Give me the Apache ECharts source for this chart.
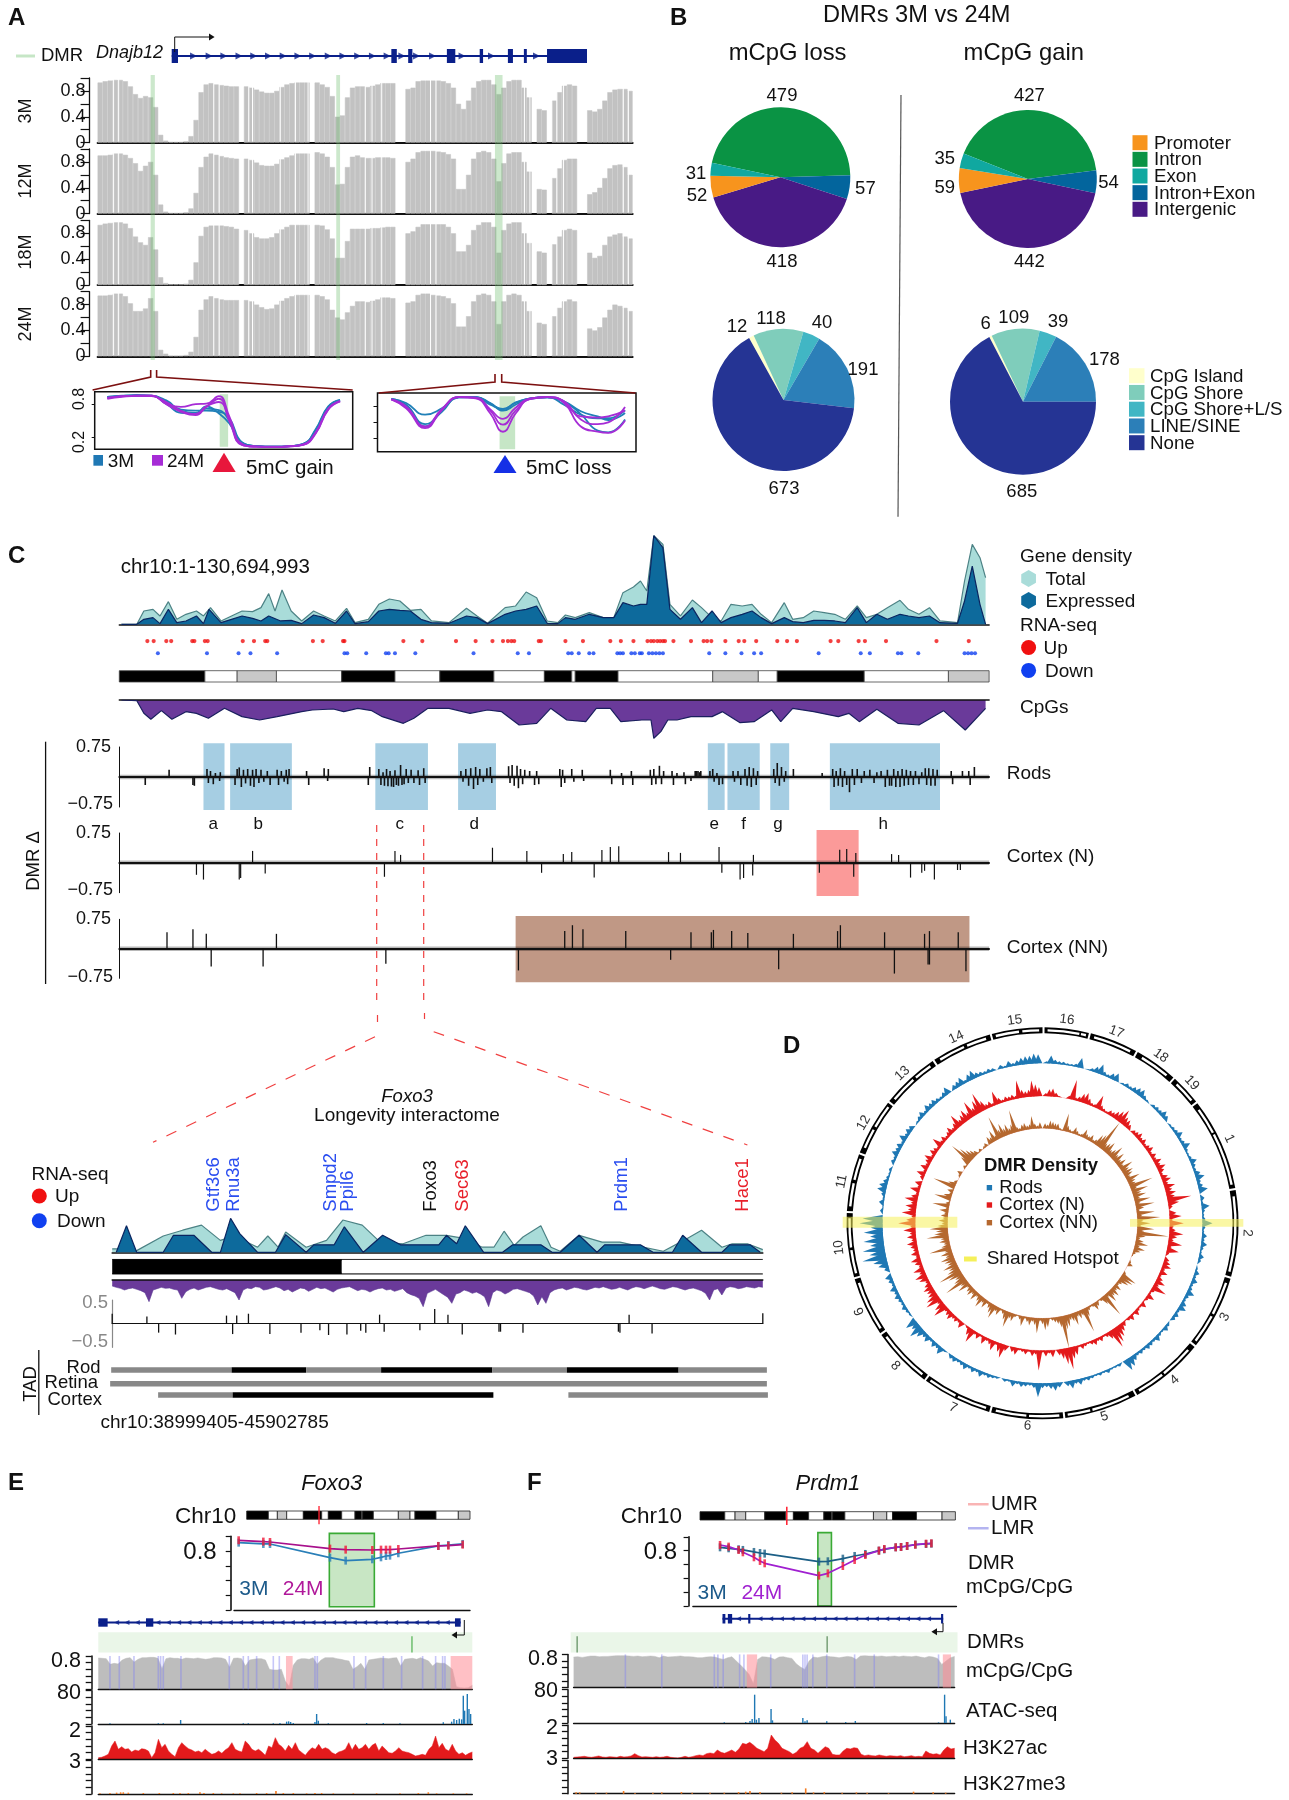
<!DOCTYPE html>
<html><head><meta charset="utf-8"><style>html,body{margin:0;padding:0;background:#fff}#c{width:1289px;height:1800px}</style>
<script src="https://cdn.jsdelivr.net/npm/echarts@6/dist/echarts.min.js"></script></head><body><div id="c"></div>
<script>
// ---------- Panel A data ----------
const methyl3M=[.93,.95,.96,.97,.97,.95,.87,.75,.69,.72,.70,.55,.12,.03,.01,.01,.01,.02,.10,.35,.78,.90,.92,.90,.89,.88,.87,.87,null,.87,.85,.82,.79,.77,.77,.80,.86,.90,.92,.93,.93,.93,null,.93,.90,.86,.72,.40,.42,.70,.85,.87,.87,.86,.88,.90,.92,.92,.92,null,null,.83,.85,.95,.96,.96,.96,.96,.95,.92,.85,.60,.52,.65,.85,.95,.97,.97,.90,.75,.85,.95,.97,.97,.85,.70,null,.52,.50,null,.65,.78,.88,.90,.88,null,null,.50,.48,.52,.65,.78,.82,.83,.83,.80];
const methyl12M=[.90,.90,.91,.93,.93,.91,.86,.78,.66,.74,.80,.60,.14,.03,.01,.01,.01,.02,.08,.32,.72,.88,.93,.91,.89,.87,.86,.85,null,.85,.83,.79,.75,.74,.74,.77,.84,.87,.90,.93,.93,.93,null,.95,.93,.88,.72,.45,.46,.72,.88,.90,.87,.86,.86,.87,.87,.87,.86,null,null,.80,.85,.95,.97,.97,.97,.96,.95,.92,.85,.38,.38,.60,.85,.95,.97,.95,.85,.50,.78,.93,.95,.95,.80,.65,null,.38,.37,null,.55,.70,.83,.85,.85,null,null,.30,.33,.40,.55,.70,.75,.76,.72,.60];
const methyl18M=[.93,.95,.96,.97,.97,.95,.88,.75,.66,.62,.74,.55,.12,.03,.01,.01,.01,.02,.08,.35,.76,.90,.92,.92,.92,.91,.90,.87,null,.85,.80,.74,.72,.72,.74,.80,.86,.90,.93,.93,.93,.93,null,.93,.92,.86,.72,.42,.42,.68,.87,.87,.87,.87,.88,.88,.89,.90,.90,null,null,.80,.83,.90,.94,.94,.94,.94,.94,.90,.80,.52,.52,.62,.85,.93,.97,.97,.90,.50,.85,.95,.97,.97,.80,.65,null,.52,.50,null,.63,.75,.85,.87,.85,null,null,.50,.42,.45,.62,.75,.78,.80,.75,.72];
const methyl24M=[.94,.94,.95,.97,.97,.93,.82,.70,.70,.74,.90,.70,.10,.04,.01,.01,.01,.02,.07,.30,.72,.88,.93,.90,.88,.87,.87,.87,null,.87,.85,.80,.76,.73,.74,.80,.86,.90,.93,.95,.95,.95,null,.95,.93,.88,.72,.60,.57,.68,.78,.85,.85,.84,.86,.88,.91,.91,.90,null,null,.83,.85,.95,.97,.97,.95,.94,.93,.90,.82,.46,.46,.62,.85,.95,.97,.95,.85,.50,.85,.95,.97,.95,.85,.70,null,.52,.50,null,.62,.75,.85,.88,.85,null,null,.43,.40,.45,.60,.72,.80,.78,.75,.70];
const dmrBandsA=[[358,368],[799,808],[1176,1194]];
const whiteGapsA=[270,282,508,521,591,600,666,702,732,868,884,907,1023,1036,1246,1259,1302,1311,1323,1339,1481,1493];
const geneAExons=[[408,423],[930,943],[970,980],[1062,1082],[1140,1148],[1207,1219],[1245,1252],[1300,1395]];
const geneAArrows=[460,497,532,568,603,638,673,708,743,780,815,850,885,920,955,990,1028,1098,1168,1275];
const insetLX=[255,290,325,360,395,430,465,490,520,545,575,610,650,690,720,750,780,808];
const insetL3M=[[.935,.947,.959,.959,.843,.678,.641,.72,.69,.494,.09,.03,.018,.03,.065,.32,.75,.873],[.92,.947,.953,.953,.81,.641,.63,.76,.63,.445,.078,.03,.02,.03,.07,.30,.73,.86],[.935,.959,.97,.959,.87,.70,.68,.68,.66,.54,.10,.03,.02,.03,.06,.34,.76,.88]];
const insetL24M=[[.916,.947,.959,.959,.81,.75,.80,.81,.947,.57,.07,.02,.02,.03,.06,.28,.72,.85],[.916,.947,.959,.959,.80,.66,.60,.75,.90,.49,.05,.02,.015,.025,.05,.26,.70,.85],[.90,.935,.953,.947,.84,.68,.62,.76,.84,.52,.05,.02,.015,.025,.05,.27,.71,.86]];
const insetRX=[930,965,1010,1050,1090,1130,1165,1195,1225,1260,1300,1340,1380,1420,1445,1485];
const insetR3M=[[.90,.83,.63,.74,.93,.93,.83,.70,.80,.91,.93,.80,.63,.57,.57,.71],[.90,.80,.47,.68,.93,.93,.80,.73,.83,.91,.93,.86,.69,.60,.54,.66],[.89,.78,.43,.70,.92,.93,.82,.72,.84,.90,.92,.85,.64,.36,.33,.55]];
const insetR24M=[[.89,.74,.40,.71,.93,.91,.65,.34,.65,.90,.93,.83,.43,.34,.32,.53],[.89,.77,.43,.73,.93,.92,.70,.46,.70,.90,.93,.85,.55,.47,.50,.76],[.89,.76,.42,.72,.93,.92,.72,.56,.75,.91,.93,.86,.60,.58,.60,.70]];
// ---------- Panel B data ----------
const regionNames=['Intron','Intron+Exon','Intergenic','Promoter','Exon'];
const regionColors=['#0a9344','#03659d','#481a85','#f7941d','#10a8a0'];
const lossRegion=[479,57,418,52,31];
const gainRegion=[427,54,442,59,35];
const cpgNames=['CpG Island','CpG Shore','CpG Shore+L/S','LINE/SINE','None'];
const cpgColors=['#ffffcc','#7fcdbb','#41b6c4','#2c7fb8','#253494'];
const lossCpg=[12,118,40,191,673];
const gainCpg=[6,109,39,178,685];
// ---------- Panel C data ----------
const densTotal=[[173,0],[195,0],[205,40],[218,45],[228,25],[240,68],[252,15],[265,30],[280,40],[290,25],[300,50],[315,10],[330,25],[345,40],[360,38],[372,50],[383,92],[392,40],[402,103],[415,40],[430,10],[447,40],[462,25],[478,10],[494,48],[506,5],[525,15],[540,60],[555,76],[570,70],[585,42],[600,45],[615,10],[640,5],[665,48],[680,25],[695,3],[720,50],[735,55],[750,97],[765,80],[780,10],[795,5],[806,28],[820,20],[840,35],[860,20],[875,20],[888,95],[903,112],[913,130],[922,100],[932,266],[945,240],[955,60],[970,25],[987,73],[1000,50],[1015,20],[1028,10],[1042,60],[1058,55],[1072,60],[1085,30],[1100,5],[1118,65],[1130,15],[1145,20],[1160,40],[1175,35],[1190,30],[1205,15],[1222,55],[1235,20],[1250,30],[1265,50],[1283,72],[1295,45],[1310,30],[1325,50],[1340,10],[1365,5],[1375,130],[1386,240],[1397,200],[1405,140]];
const densExpr=[[173,0],[195,0],[205,15],[218,20],[228,2],[240,45],[252,5],[265,10],[280,25],[290,2],[298,45],[315,5],[330,15],[345,25],[360,18],[372,10],[383,25],[400,10],[415,12],[430,2],[447,28],[462,20],[478,3],[494,40],[506,2],[525,8],[540,40],[555,45],[570,42],[585,40],[600,15],[615,5],[640,3],[665,25],[680,20],[695,2],[720,30],[735,40],[750,45],[765,55],[780,3],[795,2],[806,20],[820,15],[840,30],[860,20],[875,20],[888,65],[903,55],[913,60],[922,60],[932,266],[945,230],[955,45],[970,15],[987,50],[1000,5],[1015,40],[1028,5],[1042,20],[1058,30],[1072,40],[1085,20],[1100,2],[1118,20],[1130,8],[1145,5],[1160,12],[1175,12],[1190,10],[1205,5],[1222,50],[1235,5],[1250,30],[1265,15],[1283,30],[1295,25],[1310,20],[1325,25],[1340,5],[1365,3],[1375,70],[1386,175],[1397,60],[1405,0]];
const rnaUpC=[210,219,237,244,274,277,292,296,346,362,378,381,446,460,489,491,575,602,650,678,702,717,724,729,733,768,771,806,831,870,885,903,923,928,932,937,941,945,948,960,985,1003,1008,1014,1034,1053,1061,1078,1108,1122,1136,1184,1195,1224,1233,1263,1335,1381];
const rnaDownC=[225,295,340,357,395,491,495,522,550,554,563,592,675,738,754,810,815,825,840,846,880,884,888,900,905,912,915,925,930,935,940,945,1011,1034,1057,1075,1085,1167,1227,1240,1280,1285,1309,1375,1380,1385,1390];
const ideoC=[[170,292,1],[292,338,0],[338,394,2],[394,487,0],[487,563,1],[563,627,0],[627,704,1],[704,776,0],[776,815,1],[815,820,0],[820,881,1],[881,1016,0],[1016,1081,2],[1081,1108,0],[1108,1232,1],[1232,1352,0],[1352,1410,2]];
const cpgDepthC=[[173,0],[195,2],[205,40],[215,58],[230,32],[245,58],[265,35],[280,40],[297,55],[320,25],[345,50],[370,60],[395,50],[430,35],[445,30],[475,27],[490,35],[510,25],[530,32],[545,50],[575,70],[590,55],[610,25],[640,25],[670,40],[695,30],[715,35],[740,75],[765,70],[785,25],[808,60],[835,65],[850,25],[870,25],[885,65],[915,60],[928,60],[932,115],[942,95],[952,60],[965,60],[985,50],[1015,50],[1030,35],[1055,68],[1075,65],[1100,30],[1113,65],[1130,25],[1160,35],[1195,50],[1210,40],[1225,65],[1250,28],[1280,70],[1310,75],[1345,32],[1376,90],[1405,25]];
const rodsBoxes=[[290,320],[328,416],[535,610],[653,707],[1009,1033],[1037,1083],[1098,1125],[1183,1340]];
const rodsLetters=[['a',304],['b',368],['c',570],['d',676],['e',1018],['f',1060],['g',1109],['h',1259]];
const rodsDMR=[[207,-.2],[241,.18],[275,-.2],[277,-.22],[295,.2],[297,-.15],[300,.15],[304,-.18],[307,.1],[314,.12],[313,-.1],[335,-.2],[338,.2],[341,.24],[344,-.25],[347,.18],[350,-.16],[353,.2],[357,-.22],[360,.18],[362,-.25],[365,.2],[369,-.15],[372,.18],[376,-.12],[381,.15],[385,-.2],[395,.18],[397,-.2],[401,.15],[405,-.12],[408,.18],[410,-.18],[412,.2],[437,.15],[440,-.2],[462,.22],[468,.2],[467,-.1],[527,.25],[525,-.2],[540,.2],[543,-.2],[546,.12],[548,-.22],[551,.2],[553,-.23],[556,.15],[558,-.24],[561,-.25],[563,.17],[565,-.2],[568,-.22],[571,.3],[573,-.2],[576,-.18],[579,.2],[582,-.15],[586,.18],[590,-.15],[596,.17],[598,-.2],[604,.22],[606,-.15],[657,.15],[660,-.12],[664,.2],[668,-.22],[671,.22],[675,-.3],[678,.25],[681,-.2],[684,.2],[689,-.12],[694,.22],[699,.25],[701,-.15],[725,.27],[727,-.15],[730,.3],[733,-.22],[737,.28],[739,-.28],[742,.2],[745,-.18],[748,.18],[755,.15],[762,-.2],[765,.15],[768,-.18],[798,.2],[800,-.25],[802,.18],[805,-.15],[815,.2],[818,-.12],[830,.18],[832,-.1],[870,.18],[872,-.18],[886,.1],[888,-.2],[900,.15],[902,-.2],[927,.18],[929,-.2],[932,.2],[935,-.18],[940,.28],[943,-.18],[946,.15],[958,.15],[960,-.2],[965,.1],[975,.12],[977,-.18],[985,-.1],[991,.15],[993,.15],[995,.15],[997,.12],[999,.15],[1012,.15],[1016,.2],[1018,-.12],[1022,.1],[1025,-.2],[1030,-.18],[1045,.15],[1047,-.12],[1052,.15],[1056,-.2],[1062,.2],[1065,-.22],[1068,.25],[1071,-.25],[1074,.22],[1078,-.2],[1080,.15],[1103,.2],[1105,-.15],[1108,.35],[1111,-.22],[1114,.25],[1118,-.12],[1120,.15],[1131,.2],[1172,.1],[1187,.2],[1189,-.25],[1192,.15],[1195,-.22],[1198,.22],[1201,-.25],[1204,.15],[1207,-.2],[1211,-.38],[1215,.2],[1218,-.2],[1222,.2],[1228,-.15],[1232,.15],[1240,.18],[1246,-.15],[1250,.12],[1256,.15],[1262,-.25],[1265,.18],[1268,-.22],[1271,-.22],[1274,.2],[1277,-.25],[1280,.15],[1283,-.25],[1286,.2],[1289,-.22],[1292,.18],[1295,-.2],[1298,.15],[1302,-.2],[1305,.15],[1310,-.18],[1314,.12],[1319,.22],[1321,-.2],[1324,.22],[1327,-.22],[1330,.2],[1333,-.22],[1336,.18],[1356,.15],[1358,-.18],[1372,.15],[1381,.15],[1383,-.2],[1389,.25]];
const cortexN=[[360,.3],[563,.3],[571,.2],[702,.38],[751,.3],[803,.22],[815,.27],[858,.32],[870,.4],[882,.42],[953,.27],[970,.25],[1025,.4],[1074,.2],[1197,.33],[1207,.35],[1220,.25],[1271,.22],[1281,.2],[280,-.3],[290,-.42],[341,-.42],[343,-.38],[378,-.27],[548,-.35],[772,-.25],[847,-.37],[1029,-.25],[1055,-.42],[1060,-.38],[1073,-.32],[1168,-.25],[1217,-.35],[1298,-.37],[1314,-.25],[1318,-.2],[1332,-.42],[1365,-.18],[1369,-.18]];
const cortexNN=[[238,.42],[275,.5],[294,.38],[394,.38],[805,.45],[816,.6],[831,.5],[892,.45],[985,.42],[1014,.42],[1017,.48],[1043,.45],[1066,.4],[1131,.38],[1194,.45],[1198,.6],[1261,.42],[1318,.38],[1325,.45],[1366,.42],[301,-.45],[375,-.45],[550,-.38],[739,-.55],[956,-.28],[1110,-.52],[1275,-.63],[1323,-.4],[1325,-.4],[1377,-.57]];
// ---------- Foxo3 zoom data ----------
const zoomTotal=[[220,10],[230,10],[268,5],[320,48],[358,65],[395,80],[432,35],[452,45],[470,40],[505,15],[525,48],[545,15],[560,60],[600,15],[640,35],[672,95],[710,80],[745,30],[790,25],[835,50],[875,50],[912,40],[945,15],[968,15],[988,62],[1008,20],[1025,45],[1060,78],[1080,15],[1098,3],[1135,50],[1180,30],[1215,30],[1260,15],[1300,3],[1340,35],[1375,65],[1415,15],[1435,25],[1465,25],[1495,8]];
const zoomExpr=[[228,0],[248,78],[268,0],[320,0],[340,50],[380,50],[415,0],[432,0],[452,100],[470,55],[505,0],[540,0],[560,52],[600,0],[615,22],[655,22],[675,75],[712,0],[750,50],[785,22],[860,22],[875,50],[895,25],[912,78],[948,0],[985,0],[1005,22],[1060,22],[1082,0],[1098,0],[1135,50],[1170,0],[1185,22],[1255,22],[1280,0],[1318,0],[1338,50],[1375,0],[1415,0],[1430,22],[1470,22],[1490,0]];
const zoomCpG=[18,22,25,30,26,24,28,32,38,65,30,26,22,25,24,28,30,55,35,28,24,30,26,22,20,24,28,30,26,32,38,60,30,24,26,20,22,30,28,24,20,24,32,28,36,30,24,26,34,28,22,26,24,30,36,28,24,22,20,26,32,28,30,36,30,26,24,30,28,34,30,26,38,44,48,55,80,40,34,28,36,44,52,70,42,38,30,34,40,36,42,50,80,38,30,34,42,36,28,26,30,34,38,48,75,50,70,38,30,26,24,30,26,22,24,28,30,26,22,24,20,24,28,26,22,26,30,24,20,22,26,22,18,22,26,28,24,20,22,26,30,26,24,28,32,40,60,30,26,45,24,20,22,26,24,20,22,24,20,22];
const zoomDMR=[[220,.21],[288,.15],[444,.17],[464,.17],[487,.21],[744,.19],[852,.31],[878,.19],[1233,.19],[1495,.22],[311,-.19],[344,-.23],[456,-.22],[529,-.22],[590,-.19],[627,-.14],[644,-.24],[680,-.23],[707,-.15],[717,-.19],[753,-.17],[823,-.14],[906,-.23],[978,-.17],[981,-.17],[1025,-.19],[1212,-.17],[1215,-.19],[1278,-.21]];
const zoomGenes=[['Gtf3c6',214.3,'#2a4df0'],['Rnu3a',233.7,'#2a4df0'],['Smpd2',330.6,'#2a4df0'],['Ppil6',348,'#2a4df0'],['Foxo3',431,'#111'],['Sec63',463,'#e8202a'],['Prdm1',622.4,'#2a4df0'],['Hace1',743.4,'#e8202a']];
const tadRod=[[218,454,0],[454,600,1],[600,747,0],[747,965,1],[965,1111,0],[1111,1330,1],[1330,1503,0]];
const tadRetina=[[216,1503,0]];
const tadCortex=[[310,456,0],[456,967,1],[1114,1505,0]];
// ---------- Panel D data (height in 1.5 degree bins, clockwise from top) ----------
const ringBlue=[null,2,8,4,3,3,2,2,3,10,null,1,3,6,10,4,3,6,8,null,2,4,3,5,7,8,4,2,null,3,4,4,7,5,null,2,3,4,7,3,4,8,3,2,3,7,4,3,6,9,4,5,9,null,4,2,8,3,2,3,10,3,2,5,3,6,3,2,5,3,null,2,5,3,6,3,4,8,4,3,6,8,3,5,4,null,3,5,2,3,6,3,4,5,3,4,3,6,10,12,null,3,2,2,4,2,3,2,3,4,3,6,4,8,5,null,5,8,6,4,5,14,5,3,4,5,3,6,2,3,null,2,3,4,3,6,3,5,3,6,4,3,5,4,null,2,8,4,6,3,7,5,9,14,8,12,null,2,3,5,3,4,6,4,7,3,5,7,null,5,10,14,24,16,22,14,20,13,19,12,23,20,null,3,1,5,2,4,9,8,5,3,2,3,null,4,3,7,5,6,3,8,4,6,5,null,2,4,6,3,7,5,6,4,3,5,8,null,5,6,8,3,7,9,5,4,3,4,3,null,4,2,6,3,5,7,8,8,10,9];
const ringRed=[null,3,7,8,4,1,0,0,3,20,3,5,9,11,6,3,3,14,5,3,2,5,5,8,11,15,9,8,5,null,4,5,7,4,6,3,5,7,3,6,4,8,5,9,6,3,7,9,5,11,7,10,8,24,11,4,null,7,12,3,14,4,6,14,8,5,14,4,12,3,null,5,7,9,4,8,3,6,10,5,15,4,2,8,3,1,6,2,3,6,2,6,3,1,5,8,12,16,20,8,4,2,5,3,6,4,2,3,5,2,9,12,22,16,10,6,null,7,3,6,2,20,4,6,2,5,3,2,7,5,null,6,14,9,3,10,5,3,8,2,6,3,14,8,2,null,7,3,5,4,8,6,4,15,11,5,16,13,9,8,10,7,4,9,12,6,11,4,7,10,4,8,5,7,10,5,9,6,12,5,17,9,4,14,8,11,6,13,7,3,10,3,7,null,4,9,3,8,4,6,9,3,7,5,3,11,4,6,3,5,8,4,7,14,6,9,12,7,17,8,14,20,10,5,6,3,14,6,3,5,4,5,3,18,8,6,7,16,12,9];
const ringBrown=[null,5,4,8,7,6,6,2,1,18,6,3,2,7,4,2,3,9,5,4,7,3,5,12,14,32,8,10,13,6,9,15,7,12,6,10,5,14,8,11,9,5,14,8,7,24,6,17,9,13,6,16,5,19,8,3,18,5,23,6,13,4,17,7,32,9,4,8,13,5,11,7,3,1,0,0,2,5,0,0,0,3,16,14,11,5,3,8,5,10,7,12,4,25,9,3,1,5,8,3,2,4,9,25,6,8,5,13,8,6,12,14,33,11,7,5,3,1,9,12,6,3,15,7,4,8,5,2,10,4,1,3,8,6,16,9,4,2,8,5,14,10,6,3,9,5,12,7,4,10,5,9,7,4,13,8,24,12,9,15,24,13,10,15,9,11,14,8,12,7,22,9,6,10,8,22,14,12,18,10,6,9,5,7,4,9,3,17,4,1,17,8,3,6,1,23,8,3,0,0,2,5,0,0,3,1,10,24,16,11,8,5,1,3,0,2,4,0,8,6,12,5,24,9,14,8,11,6,9,23,5,3,6,7,4,5,13,5,3,6];
const chromNames=[16,17,18,19,1,2,3,4,5,6,7,8,9,10,11,12,13,14,15];
const chromStart=[0,13.7,28.5,41.9,51.6,79.6,105.8,128.5,151.1,173.3,195.2,216.5,235.3,253.4,273,290.6,308,325.9,344.4];
const ringWhite=[[1.5,11],[11.5,13],[15.5,27],[31,40],[44,50.5],[54,62],[62.6,78.5],[82,104.5],[108,118],[118.8,127.5],[131,141],[141.7,150],[153.5,165],[165.7,172.5],[175,184],[184.8,194],[197,206],[206.8,215.5],[218.5,234],[237,252],[255,262],[262.8,271.5],[275,282],[283,289.5],[293,299],[300,307],[310,318],[319,324.5],[328,336],[337,343],[346,353],[354,359]];
// ---------- Panels E / F data ----------
const ideoMini=[[740,805,1],[805,832,0],[832,860,2],[860,910,0],[910,965,1],[965,985,0],[985,1025,1],[1025,1065,0],[1065,1085,1],[1085,1088,0],[1088,1120,1],[1120,1195,0],[1195,1230,2],[1230,1245,0],[1245,1308,1],[1308,1375,0],[1375,1410,2]];
const eX=[716,790,810,990,1037,1117,1143,1158,1170,1195,1315,1345,1388];
const e3M=[.914,.896,.896,.71,.67,.688,.715,.733,.738,.77,.869,.882,.896];
const e24M=[.946,.928,.923,.833,.819,.814,.819,.819,.819,.828,.869,.873,.887];
const fX=[588,612,640,652,683,700,713,865,890,932,965,995,1033,1048,1080,1095,1112,1135,1165,1180];
const f3M=[.848,.834,.819,.81,.781,.766,.757,.641,.646,.684,.723,.752,.8,.819,.848,.853,.867,.887,.896,.901];
const f24M=[.882,.858,.81,.776,.704,.651,.617,.439,.472,.578,.665,.737,.8,.824,.848,.853,.867,.887,.901,.906];
const eMeth=[.94,.93,.92,.75,.78,.76,.88,.93,.95,.82,.90,.95,.95,.96,.96,.93,.62,.92,.95,.93,.93,.90,.94,.93,.92,.94,.92,.90,.92,.95,.95,.94,.90,.66,.93,.94,.92,.70,.88,.90,.92,.92,.88,.60,.58,.58,.60,.25,.08,.72,.88,.92,.92,.90,.95,.75,.88,.95,.95,.95,.92,.90,.87,.85,.60,.68,.78,.60,.88,.90,.92,.94,.93,.92,.94,.95,.70,.90,.92,.93,.90,.95,.90,.85,.70,.80,.78,.78,.70,.60,.08,.05,.04,.05,.12];
const fMeth=[.92,.93,.91,.93,.95,.95,.93,.94,.94,.95,.96,.96,.96,.95,.94,.95,.93,.94,.95,.94,.90,.95,.92,.93,.94,.95,.93,.93,.92,.90,.90,.92,.93,.92,.88,.85,.90,.93,.80,.68,.55,.40,.12,.85,.93,.92,.90,.85,.92,.93,.90,.88,.72,.62,.55,.80,.92,.90,.93,.95,.93,.92,.90,.92,.94,.92,.85,.95,.96,.95,.95,.94,.95,.93,.94,.95,.93,.95,.94,.93,.95,.92,.90,.94,.92,.88,.70,.80,.90,.94];
const eUMR=[[858,878],[1352,1417]];
const eLMR=[330,358,402,475,482,490,543,688,730,745,770,820,838,945,952,1062,1097,1150,1205,1268,1307,1328,1335];
const fUMR=[[663,692],[1212,1235]];
const fLMR=[323,425,572,582,597,643,655,730,820,826,832,848,887,965,1020,1200];
const eATAC=[[330,2],[475,2],[490,2],[542,12],[730,2],[745,2],[820,2],[840,3],[860,7],[866,8],[872,6],[880,3],[945,6],[950,30],[955,10],[985,2],[1100,3],[1150,3],[1200,2],[1330,5],[1355,7],[1362,15],[1370,12],[1378,16],[1385,14],[1390,85],[1394,40],[1402,90],[1407,45],[1412,30]];
const fATAC=[[600,2],[660,3],[672,6],[678,12],[685,85],[690,10],[697,15],[731,42],[735,8],[820,15],[826,5],[832,8],[887,5],[940,3],[967,6],[1200,2],[1217,85],[1221,20],[1233,10]];
const eAc=[5,6,10,15,40,55,30,38,30,32,22,28,25,32,30,25,5,20,60,35,45,25,15,8,35,50,40,32,28,22,25,20,30,22,15,18,25,18,28,35,50,30,25,22,55,45,30,25,30,22,12,40,35,65,45,38,25,42,30,50,28,20,12,25,35,30,45,30,35,30,20,15,22,25,30,50,28,45,30,35,45,30,42,48,25,40,30,20,18,25,35,25,22,20,15,10,12,15,12,30,40,70,35,48,30,25,45,25,15,20,12,18,22];
const fAc=[3,4,5,6,4,3,5,7,4,3,5,4,3,6,4,5,7,14,8,4,5,4,3,5,3,4,6,3,2,1,3,6,3,5,8,10,8,14,16,14,25,18,15,20,25,18,28,45,42,48,40,30,25,20,30,70,55,45,30,25,20,12,18,30,35,50,30,25,15,25,35,30,12,10,10,22,30,28,32,30,12,8,10,8,7,10,8,6,8,7,6,8,5,6,8,5,6,5,22,15,12,14,10,25,35,28,30];
const eMe3=[[300,2],[330,3],[350,4],[362,5],[370,5],[385,4],[430,3],[478,3],[520,3],[540,3],[565,3],[600,5],[612,3],[640,3],[665,2],[700,2],[720,2],[770,3],[800,3],[828,9],[850,3],[880,3],[920,2],[945,3],[965,3],[1000,2],[1060,2],[1130,2],[1200,2],[1255,3],[1285,5],[1310,2],[1360,2],[1400,2]];
const fMe3=[[185,4],[195,4],[240,3],[270,3],[318,8],[350,2],[400,3],[425,4],[480,5],[510,3],[560,3],[600,3],[640,5],[660,6],[672,8],[700,5],[760,3],[790,4],[828,16],[850,4],[880,5],[930,3],[970,4],[1000,3],[1060,2],[1130,6],[1185,4],[1220,3]];
const eArrows=[350,381,412,443,474,505,536,567,598,629,660,691,722,753,784,815,846,877,908,939,970,1001,1032,1063,1094,1125,1156,1187,1218,1249,1280,1311,1342];
const fArrows=[640,700,730,760,790,820,850,880,910,938,968,998,1026,1055,1085,1113,1142,1172];

// ---------- builders ----------
const FONT='"Liberation Sans",Arial,sans-serif';
const grids=[],xAxes=[],yAxes=[],series=[],gfx=[],polars=[],angles=[],radii=[];
function panel(l,t,w,h,xr,yr,o={}){
  const i=grids.length;
  grids.push({left:l,top:t,width:w,height:h,containLabel:false,show:!!o.box,borderColor:'#111',borderWidth:o.box?1.5:0,backgroundColor:'transparent'});
  const xa=o.cat?{type:'category',data:Array.from({length:o.cat},(_,k)=>k),boundaryGap:!o.flat}:{type:'value',min:xr[0],max:xr[1]};
  Object.assign(xa,{gridIndex:i,show:!!o.base,splitLine:{show:false},axisTick:{show:false},axisLabel:{show:false},axisLine:{show:!!o.base,onZero:true,lineStyle:{color:'#111',width:o.base||1}},z:o.baseZ||3});
  xAxes.push(xa);
  const ya=Object.assign({type:'value',gridIndex:i,min:yr[0],max:yr[1],show:false,splitLine:{show:false},inverse:!!o.inverse},o.y||{});
  yAxes.push(ya);
  return i;
}
const yax=(off,interval,extra={})=>({y:Object.assign({show:true,offset:off,interval,axisLine:{show:true,onZero:false,lineStyle:{color:'#111',width:1.3}},axisTick:{show:true,length:5,lineStyle:{color:'#111',width:1.2}},axisLabel:{show:false}},extra)});
function add(i,s){series.push(Object.assign({xAxisIndex:i,yAxisIndex:i,silent:true},s));}
function rects(i,rows,palette,z=4,stroke){
  add(i,{type:'custom',z,data:rows,encode:{x:[0,1],y:[2,3]},renderItem:(p,api)=>{
    const a=api.coord([api.value(0),api.value(2)]),b=api.coord([api.value(1),api.value(3)]);
    return {type:'rect',shape:{x:a[0],y:b[1],width:b[0]-a[0],height:a[1]-b[1]},style:{fill:palette[api.value(4)],stroke:stroke?stroke.color:null,lineWidth:stroke?stroke.width:0}};
  }});
}
function ticks(i,pairs,color,width,z=5){
  add(i,{type:'custom',z,data:pairs,encode:{x:0,y:1},renderItem:(p,api)=>{
    const a=api.coord([api.value(0),0]),b=api.coord([api.value(0),api.value(1)]);
    return {type:'line',shape:{x1:a[0],y1:a[1],x2:b[0],y2:b[1]},style:{stroke:color,lineWidth:width}};
  }});
}
function area(i,data,fill,stroke,lw,z){add(i,{type:'line',z,data,showSymbol:false,symbol:'none',lineStyle:{color:stroke,width:lw},itemStyle:{color:stroke},areaStyle:{color:fill,opacity:1}});}
function bars(i,vals,color,z=3){add(i,{type:'bar',z,data:vals,barWidth:'100%',barGap:'-100%',itemStyle:{color,borderColor:color,borderWidth:.5}});}
function T(x,y,text,o={}){gfx.push({type:'text',x,y:y+1,rotation:(o.rot||0)*Math.PI/180,z:60,silent:true,style:{text,fontFamily:FONT,fontSize:o.size||18,fontStyle:o.italic?'italic':'normal',fontWeight:o.bold?'bold':'normal',fill:o.color||'#111',align:o.align||'left',verticalAlign:'middle'}});}
function L(points,color,width,dash,z=55){gfx.push({type:'polyline',z,silent:true,shape:{points},style:{stroke:color,lineWidth:width,fill:null,lineDash:dash||null}});}
function P(points,fill,z=55){gfx.push({type:'polygon',z,silent:true,shape:{points},style:{fill}});}
function R(x,y,w,h,fill,z=55){gfx.push({type:'rect',z,silent:true,shape:{x,y,width:w,height:h},style:{fill}});}
function C(x,y,r,fill){gfx.push({type:'circle',z:55,silent:true,shape:{cx:x,cy:y,r},style:{fill}});}
function hex(x,y,r,fill){const p=[];for(let k=0;k<6;k++){const a=Math.PI/3*k-Math.PI/2;p.push([x+r*Math.cos(a),y+r*Math.sin(a)]);}P(p,fill);}
const pal=['#ffffff','#000000','#c8c8c8','#ff2030'];
function gene(l,t,w,h,xr,exons,arrows,rot,size){
  const i=panel(l,t,w,h,xr,[0,1]);
  add(i,{type:'line',z:3,data:[[exons[0][0],.5],[exons[exons.length-1][1],.5]],showSymbol:false,symbol:'none',lineStyle:{color:'#0a1f8a',width:2}});
  rects(i,exons.map(e=>[e[0],e[1],0,1,0]),['#0a1f8a']);
  add(i,{type:'scatter',z:5,data:arrows.map(a=>[a,.5]),symbol:'triangle',symbolRotate:rot,symbolSize:[size,size],itemStyle:{color:'#0a1f8a'}});
}
function lineS(i,xs,ys,color,w,smooth){add(i,{type:'line',z:5,smooth:!!smooth,data:xs.map((x,k)=>[x,ys[k]]),showSymbol:false,symbol:'none',lineStyle:{color,width:w}});}
function marks(i,xs,ys,color){add(i,{type:'scatter',z:6,data:xs.map((x,k)=>[x,ys[k]]),symbol:'rect',symbolSize:[2.6,8],itemStyle:{color}});}

// ---------- Panel letters ----------
T(8,17,'A',{size:24,bold:true});T(670,17,'B',{size:24,bold:true});T(8,555,'C',{size:24,bold:true});T(783,1045,'D',{size:24,bold:true});T(8,1482,'E',{size:24,bold:true});T(527,1482,'F',{size:24,bold:true});

// ---------- Panel A ----------
R(16,54.5,19,3,'#c6e6c6');T(41,55,'DMR',{size:18.5});T(96,52,'Dnajb12',{size:18,italic:true});
L([[174.7,52],[174.7,37],[213,37]],'#111',1);P([[214.6,37],[209,33.5],[209,40.5]],'#111');
gene(171.7,49,415.3,14,[408,1395],geneAExons,geneAArrows,-90,7);
const trackTops=[78,149,220.4,291.7],trackNames=['3M','12M','18M','24M'],trackY=[110,180,251,323];
[methyl3M,methyl12M,methyl18M,methyl24M].forEach((v,k)=>{
  const i=panel(97.6,trackTops[k],535,64.6,null,[0,1],Object.assign({cat:v.length,base:2},yax(8,.2,{axisTick:{show:true,length:9,lineStyle:{color:'#111',width:1.2}},axisLabel:{show:true,margin:4,color:'#111',fontFamily:FONT,fontSize:18,formatter:x=>Math.abs(x)<.01?'0':Math.abs(x-.4)<.01?'0.4':Math.abs(x-.8)<.01?'0.8':''}})));
  bars(i,v,'#c2c2c2');
  T(26,trackY[k],trackNames[k],{rot:90,align:'center',size:18});
});
const bandA=panel(97.6,75,535,285,[232,1503],[0,1]);
[[78,142.6],[149,213.6],[220.4,285],[291.7,356.3]].forEach(r=>{const w=panel(97.6,r[0],535,r[1]-r[0]-1,[232,1503],[0,1]);ticks(w,whiteGapsA.map(x=>[x,1]),'#ffffff',1,6);});
rects(bandA,dmrBandsA.map(b=>[b[0],b[1],0,1,0]),['rgba(110,190,110,0.35)'],8);
L([[150.7,370],[150.7,377],[92.6,390]],'#7c1010',1.6);L([[156.6,370],[156.6,377],[352.7,390]],'#7c1010',1.6);
L([[495,374],[495,382],[378.8,393]],'#7c1010',1.6);L([[501.7,374],[501.7,382],[635.5,393]],'#7c1010',1.6);
const insL=panel(94.7,391.7,258,57.6,[225,838],[-.03,1.03],Object.assign({box:true},{y:{show:true,axisLine:{show:false},axisTick:{show:true,length:3,customValues:[.2,.8],lineStyle:{color:'#111'}},axisLabel:{show:false}}}));
rects(insL,[[522,542,.016,.984,0]],['#c6e6c6'],2);
insetL3M.forEach(v=>lineS(insL,insetLX,v,'#2080b8',1.8,true));insetL24M.forEach(v=>lineS(insL,insetLX,v,'#a62cd6',1.8,true));
T(80,398,'0.8',{rot:90,align:'center',size:16});T(80,441,'0.2',{rot:90,align:'center',size:16});
const insR=panel(377.5,393,258.5,58.7,[897,1511],[0,1],{box:true,y:{show:true,axisLine:{show:false},axisTick:{show:true,length:4,customValues:[.229,.497,.771],lineStyle:{color:'#111'}},axisLabel:{show:false}}});
rects(insR,[[1187,1224,.04,.943,0]],['#c6e6c6'],2);
insetR3M.forEach(v=>lineS(insR,insetRX,v,'#2080b8',1.8,true));insetR24M.forEach(v=>lineS(insR,insetRX,v,'#a62cd6',1.8,true));
R(93.4,455,9.6,10.7,'#1f78b4');T(107.7,461,'3M',{size:19});R(152,455,11,10.7,'#a62cd6');T(167,461,'24M',{size:19});
P([[224,452.7],[212.5,472],[235.7,472]],'#e8173c');T(246,467,'5mC gain',{size:20.5});
P([[505,455],[493.5,473],[516.5,473]],'#1530e6');T(526,467,'5mC loss',{size:20.5});

// ---------- Panel B ----------
T(916.7,14.5,'DMRs 3M vs 24M',{size:23.6,align:'center'});T(787.6,52.7,'mCpG loss',{size:23.8,align:'center'});T(1023.8,52.7,'mCpG gain',{size:23.8,align:'center'});
L([[901,95],[898,516.7]],'#555',1.2);
function pie(cx,cy,r,start,vals,names,colors,labelPos){
  series.push({type:'pie',silent:true,center:[cx,cy],radius:[0,r],startAngle:start,clockwise:true,label:{show:false},labelLine:{show:false},itemStyle:{borderWidth:0},
    data:vals.map((v,k)=>({value:v,name:names[k],itemStyle:{color:colors[k]}}))});
  vals.forEach((v,k)=>T(labelPos[k][0],labelPos[k][1],String(v),{size:18.5,align:'center'}));
}
pie(780.3,177.3,70,168,lossRegion,regionNames,regionColors,[[782,95],[865.4,187.7],[782,260.7],[697,195],[696,172.7]]);
pie(1027.8,179,69,158.4,gainRegion,regionNames,regionColors,[[1029.4,95],[1108.5,181.7],[1029.4,260.7],[944.8,187],[944.8,158]]);
pie(783.5,400,71,119,lossCpg,cpgNames,cpgColors,[[737,326],[771,317.7],[822,322],[863,369],[784,488]]);
pie(1023,401.7,73,117.5,gainCpg,cpgNames,cpgColors,[[985.7,323],[1013.8,316.7],[1058,321],[1104.4,359],[1021.8,490.7]]);
[3,0,4,1,2].forEach((c,k)=>{const y=142.7+k*16.65;R(1132.5,y-7.5,15,15,regionColors[c]);T(1154,y,['Promoter','Intron','Exon','Intron+Exon','Intergenic'][k],{size:18.7});});
cpgNames.forEach((n,k)=>{const y=375.7+k*16.75;R(1129,y-7.5,15.5,15,cpgColors[k]);T(1150,y,n,{size:18.7});});

// ---------- Panel C ----------
T(120.7,566.7,'chr10:1-130,694,993',{size:20.5});
const CX=119.3,CW=869.8,CD=[170,1410];
const dens=panel(CX,535.7,CW,88.6,CD,[0,266],{base:1.5});
area(dens,densTotal,'#a9dcd9','#4c8285',1.2,3);area(dens,densExpr,'#0d6a9c','#0b2560',1.2,4);
const dots=panel(CX,636,CW,22,CD,[0,1]);
add(dots,{type:'scatter',data:rnaUpC.map(x=>[x,.77]),symbolSize:4.2,itemStyle:{color:'#f01010'}});
add(dots,{type:'scatter',data:rnaDownC.map(x=>[x,.22]),symbolSize:4,itemStyle:{color:'#1040f0'}});
const ic=panel(CX,670.7,CW,11.3,CD,[0,1]);
rects(ic,ideoC.map(s=>[s[0],s[1],0,1,s[2]]),pal,4,{color:'#444',width:.8});
const cg=panel(CX,700,CW,38.3,CD,[0,115],{inverse:true,base:1.5});
area(cg,cpgDepthC,'#6a3a9a','#1a1f5e',1.2,3);
const axisC=()=>({y:{show:true,interval:1.5,axisLine:{show:true,onZero:false,lineStyle:{color:'#111',width:1}},axisTick:{show:false},axisLabel:{show:false}}});
function halo(i){add(i,{type:'line',z:2,data:[[170,0],[1410,0]],showSymbol:false,symbol:'none',lineStyle:{color:'rgba(0,0,0,0.28)',width:4.5}});}
const rodsBand=panel(CX,743.3,CW,66.7,CD,[0,1]);
rects(rodsBand,rodsBoxes.map(b=>[b[0],b[1],0,1,0]),['#a6cee3'],2);
const rodsP=panel(CX,747,CW,60,CD,[-.75,.75],Object.assign({base:1.8},axisC()));
halo(rodsP);ticks(rodsP,rodsDMR,'#111',1.6);
rodsLetters.forEach(l=>T(l[1]/1.4255,823,l[0],{align:'center',size:17}));
const nBand=panel(CX,830,CW,66,CD,[0,1]);rects(nBand,[[1164,1224,0,1,0]],['#fb9a99'],2);
const nP=panel(CX,833,CW,59.7,CD,[-.75,.75],Object.assign({base:1.8},axisC()));
halo(nP);ticks(nP,cortexN,'#111',1.2);
const nnBand=panel(CX,916,CW,66.3,CD,[0,1]);rects(nnBand,[[735,1382,0,1,0]],['#c09885'],2);
const nnP=panel(CX,919.3,CW,59,CD,[-.75,.75],Object.assign({base:1.8},axisC()));
halo(nnP);ticks(nnP,cortexNN,'#111',1.3);
[[746,803],[831.7,889],[917.7,976]].forEach(r=>{T(111,r[0],'0.75',{align:'right',size:18});T(113,r[1],'\u22120.75',{align:'right',size:18});});
T(33.7,860,'DMR \u0394',{rot:90,align:'center',size:18.5});L([[45.6,741.7],[45.6,984]],'#111',1.3);
T(1006.7,773,'Rods',{size:19});T(1006.7,856,'Cortex (N)',{size:19});T(1006.7,947,'Cortex (NN)',{size:19});T(1020,706.7,'CpGs',{size:19});
T(1020,555.6,'Gene density',{size:19});hex(1028.6,578.6,8.5,'#a9dcd9');T(1045.6,578.6,'Total',{size:19});hex(1028.6,600.4,8.5,'#0d6a9c');T(1045.6,600.4,'Expressed',{size:19});
T(1020,624.5,'RNA-seq',{size:19});C(1028.6,647.5,7.5,'#f01010');T(1043.5,647.5,'Up',{size:19});C(1028.6,670.4,7.5,'#1040f0');T(1045,670.4,'Down',{size:19});
L([[376.7,825],[376.7,1003]],'#f04040',1.2,[7,7]);L([[423.7,825],[423.7,1003]],'#f04040',1.2,[7,7]);
L([[377.5,1015],[377.5,1022]],'#f04040',1.2);L([[424.5,1013],[424.5,1019]],'#f04040',1.2);
L([[375,1036.7],[153,1142.3]],'#f04040',1.2,[11,11]);L([[433.7,1031.7],[747.4,1145]],'#f04040',1.2,[11,11]);

// ---------- Foxo3 zoom ----------
T(407,1096,'Foxo3',{italic:true,align:'center',size:18.5});T(407,1114.3,'Longevity interactome',{align:'center',size:19});
T(31.6,1174,'RNA-seq',{size:19});C(39.3,1196,7.5,'#f01010');T(55,1196,'Up',{size:19});C(39.3,1220.7,7.5,'#1040f0');T(57,1220.7,'Down',{size:19});
zoomGenes.forEach(g=>T(g[1],1210.7,g[0],{rot:90,color:g[2],size:18.5}));
const ZX=112.2,ZW=650.6,ZD=[220,1495];
const zd=panel(ZX,1218.3,ZW,34,ZD,[0,100],{base:1.6});
area(zd,zoomTotal,'#a9dcd9','#4c8285',1.2,3);area(zd,zoomExpr,'#0d6a9c','#0b2560',1.2,4);
const zi=panel(ZX,1259.3,ZW,14.7,ZD,[0,1]);
rects(zi,[[220,670,0,1,1],[670,1495,.1,.9,0]],pal);
add(zi,{type:'line',z:3,data:[[220,1],[1495,1]],showSymbol:false,symbol:'none',lineStyle:{color:'#333',width:1.3}});
add(zi,{type:'line',z:3,data:[[220,0],[1495,0]],showSymbol:false,symbol:'none',lineStyle:{color:'#333',width:1.3}});
const zcp=panel(ZX,1280,ZW,27,null,[0,81],{cat:zoomCpG.length,flat:true,inverse:true,base:1.5});
add(zcp,{type:'line',z:3,data:zoomCpG,showSymbol:false,symbol:'none',lineStyle:{color:'#5a3a94',width:.6},areaStyle:{color:'#6a3a9a',opacity:1}});
const ztk=panel(ZX,1300,ZW,47.3,ZD,[-.5,.5],Object.assign({base:1.2},{y:{show:true,interval:1,axisLine:{show:true,onZero:false,lineStyle:{color:'#888',width:1.2}},axisTick:{show:false},axisLabel:{show:false}}}));
ticks(ztk,zoomDMR,'#111',1.3);
T(108,1301.7,'0.5',{align:'right',color:'#888',size:18.5});T(108,1340.7,'\u22120.5',{align:'right',color:'#888',size:18.5});
const tadRows=[[tadRod,1370],[tadRetina,1383.7],[tadCortex,1395]];
tadRows.forEach(t=>{const i=panel(ZX,t[1]-2.8,ZW,5.6,ZD,[0,1]);rects(i,t[0].map(s=>[s[0],s[1],0,1,s[2]]),['#888888','#000000']);});
T(100.5,1367,'Rod',{align:'right',size:18.5});T(98,1382,'Retina',{align:'right',size:18.5});T(102,1399,'Cortex',{align:'right',size:18.5});
T(30.6,1383,'TAD',{rot:90,align:'center',size:18.5});L([[38.8,1350],[38.8,1415]],'#111',1.3);
T(100.5,1422,'chr10:38999405-45902785',{size:19});

// ---------- Panel D ----------
const cx=1042.5,cy=1223.3;
[[ringBlue,160,'#1f78b4'],[ringRed,127.3,'#e31a1c'],[ringBrown,95,'#b5682f']].forEach((r,k)=>{
  polars.push({center:[cx,cy],radius:[r[1],r[1]+40]});
  angles.push({polarIndex:k,type:'value',min:0,max:360,startAngle:90,clockwise:true,show:false,splitLine:{show:false}});
  radii.push({polarIndex:k,type:'value',min:0,max:40,show:false,splitLine:{show:false}});
  const col=r[2];
  series.push({type:'custom',coordinateSystem:'polar',polarIndex:k,silent:true,z:3,data:r[0].map((h,i)=>[h,i*1.5]).filter(d=>d[0]!==null),encode:{radius:0,angle:1},renderItem:(p,api)=>{
    const h=api.value(0),a=api.value(1),w=1.45;
    return {type:'polygon',shape:{points:[api.coord([0,a-w]),api.coord([h,a]),api.coord([0,a+w])]},style:{fill:col}};
  }});
  if(k>0) series.push({type:'pie',silent:true,center:[cx,cy],radius:[r[1]-.3,r[1]+.3],label:{show:false},labelLine:{show:false},z:2,data:[{value:1,itemStyle:{color:'#f6c6c6'}}]});
});
const ringBase=[];chromStart.forEach((s,k)=>{const e=k<chromStart.length-1?chromStart[k+1]:360;ringBase.push({value:.6,itemStyle:{color:'rgba(255,255,255,0)'}},{value:e-s-.6,itemStyle:{color:'#000'}});});
series.push({type:'pie',silent:true,center:[cx,cy],radius:[190,196],startAngle:90,clockwise:true,label:{show:false},labelLine:{show:false},data:ringBase,z:4});
const ringIn=[];let ringPos=0;ringWhite.forEach(w=>{ringIn.push({value:w[0]-ringPos,itemStyle:{color:'rgba(0,0,0,0)'}},{value:w[1]-w[0],itemStyle:{color:'#fff'}});ringPos=w[1];});ringIn.push({value:360-ringPos,itemStyle:{color:'rgba(0,0,0,0)'}});
series.push({type:'pie',silent:true,center:[cx,cy],radius:[191.8,194.2],startAngle:90,clockwise:true,label:{show:false},labelLine:{show:false},data:ringIn,z:5});
chromNames.forEach((n,k)=>{
  const e=k<chromStart.length-1?chromStart[k+1]:360,mid=(chromStart[k]+e)/2,ra=mid*Math.PI/180,rr=n===6||n===5?203:205;
  const x=cx+rr*Math.sin(ra),y=cy-rr*Math.cos(ra);
  let rot=-mid;if(mid>100&&mid<260)rot=180-mid;
  T(x,y-1,String(n),{size:13.5,align:'center',rot,color:'#333'});
});
R(842.7,1216.7,114.6,11,'rgba(245,240,90,0.55)',58);R(1130,1219,113.3,7.7,'rgba(245,240,90,0.55)',58);
T(984,1164.7,'DMR Density',{bold:true,size:18.5});
[['Rods','#1f78b4',1187.7],['Cortex (N)','#e31a1c',1205],['Cortex (NN)','#b5682f',1222.7]].forEach(l=>{R(986.7,l[2]-2.7,5.4,5.4,l[1]);T(999.3,l[2]-1,l[0],{size:18.5});});
R(964,1256.5,12.7,5,'#f5f05a');T(986.7,1258,'Shared Hotspot',{size:19});

// ---------- Panels E / F ----------
function locus(c){
  T(c.titleX,1483,c.title,{italic:true,size:22,align:'center'});
  T(c.chrX,1515.5,'Chr10',{size:22.5});
  const id=panel(c.ideo[0],c.ideo[1],c.ideo[2],8.3,[740,1410],[0,1]);
  rects(id,ideoMini.map(s=>[s[0],s[1],0,1,s[2]]),pal,4,{color:'#222',width:.8});
  rects(id,[[c.red-2,c.red+2,-.6,1.6,3]],pal,6);
  const m=panel(c.m[0],c.m[1],c.m[2],c.m[3],c.m[4],[0,1],Object.assign({base:1.4},yax(c.m[5],.2,{axisLine:{show:true,onZero:false,lineStyle:{color:'#111',width:1.6}}})));
  rects(m,[[c.green[0],c.green[1],c.green[2],c.green[3],0]],['#c8e6c4'],2,{color:'#3aaa35',width:1.6});
  lineS(m,c.x,c.v3,c.col3,1.7);marks(m,c.x,c.v3,c.col3);lineS(m,c.x,c.v24,c.col24,1.7);marks(m,c.x,c.v24,'#f01838');
  T(c.l08,1551,'0.8',{size:24,align:'right'});T(c.t3,c.tY,'3M',{size:21,color:'#1c5a8a'});T(c.t24,c.tY,'24M',{size:21,color:c.col24Text});
  const d=panel(c.band[0],1632.3,c.band[1],20.2,c.bandD,[0,1]);rects(d,[[c.bandD[0],c.bandD[1],0,1,0]],['#eaf6e8'],2);
  ticks(d,c.dmrTicks.map(x=>[x,.8]),c.dmrColor,1.2);
  const ax=dmax=>Object.assign({base:1.4},yax(c.t[2],dmax/5,{axisLine:{show:true,onZero:false,lineStyle:{color:'#111',width:1.5}},axisTick:{show:true,length:6,lineStyle:{color:'#111',width:1.3}}}));
  const tr=(k,vals,color,dom)=>{
    const [base,h]=c.tracks[k];
    const p=panel(c.t[0],base-h,c.t[1],h,null,dom,Object.assign({cat:vals.length,flat:true},ax(dom[1])));
    add(p,{type:'line',z:3,data:vals,showSymbol:false,symbol:'none',lineStyle:{color,width:.5},areaStyle:{color,opacity:1}});
  };
  tr(0,c.meth,'#bdbdbd',[0,1]);
  const ov=panel(c.t[0],c.tracks[0][0]-c.tracks[0][1],c.t[1],c.tracks[0][1],c.tD,[0,1]);
  ticks(ov,c.lmr.map(x=>[x,1]),'rgba(130,130,240,0.45)',1.6,6);
  rects(ov,c.umr.map(u=>[u[0],u[1],0,1,0]),['rgba(255,140,150,0.55)'],7);
  const at=panel(c.t[0],c.tracks[1][0]-c.tracks[1][1],c.t[1],c.tracks[1][1],c.tD,[0,100],ax(100));
  ticks(at,c.atac,'#1f78b4',1.4);
  tr(2,c.ac,'#e31a1c',[0,100]);
  const me=panel(c.t[0],c.tracks[3][0]-c.tracks[3][1],c.t[1],c.tracks[3][1],c.tD,[0,100],ax(100));
  ticks(me,c.me3,'#f47b20',1.6);
  c.labs.forEach(l=>T(c.labX,l[0],l[1],{size:21.5,align:'right'}));
}
locus({title:'Foxo3',titleX:331.7,chrX:175,ideo:[246.7,1511,223.3],red:957,m:[234,1536.3,236,73.7,[702,1410],3.3],green:[988,1123,.045,1.04],x:eX,v3:e3M,v24:e24M,col3:'#2a7fb8',col24:'#a8108c',col24Text:'#b0189a',l08:216.7,t3:239.3,t24:282.7,tY:1588.5,band:[98.3,374],bandD:[295,1417],dmrTicks:[1236],dmrColor:'#4fb04f',t:[98.3,374,6.6],tD:[295,1417],tracks:[[1689.3,33.3],[1724,33.3],[1759.3,33.3],[1794,33.3]],meth:eMeth,lmr:eLMR,umr:eUMR,atac:eATAC,ac:eAc,me3:eMe3,labs:[[1660,'0.8'],[1692.5,'80'],[1730,'2'],[1761,'3']],labX:81});
gene(98.3,1618.3,366,8.4,[295,1393],[[295,323],[438,460],[1365,1382]],eArrows,90,5);
L([[464.3,1620],[464.3,1635],[454,1635]],'#111',1);P([[451.5,1635],[457,1631.5],[457,1638.5]],'#111');
locus({title:'Prdm1',titleX:827.9,chrX:620.7,ideo:[700,1511.7,255.4],red:967.7,m:[692.9,1536.8,263.5,69.2,[512,1250],4.3],green:[862,900,0,1.06],x:fX,v3:f3M,v24:f24M,col3:'#1c5f86',col24:'#a020d0',col24Text:'#a020d0',l08:677,t3:697.5,t24:741.4,tY:1592,band:[570.7,386.8],bandD:[170,1253],dmrTicks:[188,888],dmrColor:'#5a8a5a',t:[573.6,381,5.7],tD:[178,1245],tracks:[[1687.7,33.3],[1723,33.3],[1758.3,33.3],[1793.7,33.3]],meth:fMeth,lmr:fLMR,umr:fUMR,atac:fATAC,ac:fAc,me3:fMe3,labs:[[1658.5,'0.8'],[1690,'80'],[1727.5,'2'],[1758.5,'3']],labX:558});
gene(722.5,1614,220.7,9.5,[595,1213],[[595,603],[610,622],[667,673],[1207,1213]],fArrows,90,5);
L([[943,1623],[943,1631.7],[934,1631.7]],'#111',1);P([[931.4,1631.7],[937,1628.2],[937,1635.2]],'#111');
R(968,1503,20.6,2.5,'#f9b4b4');T(991,1503,'UMR',{size:20.5});R(968,1527,20.6,2.5,'#b4b4f0');T(991,1527,'LMR',{size:20.5});
T(967.9,1562,'DMR',{size:20.5});T(966,1586,'mCpG/CpG',{size:20.5});T(967,1641,'DMRs',{size:20.5});T(966,1670,'mCpG/CpG',{size:20.5});T(966,1710,'ATAC-seq',{size:20.5});T(963,1747,'H3K27ac',{size:20.5});T(963,1783,'H3K27me3',{size:20.5});

const chart=echarts.init(document.getElementById('c'),null,{renderer:'canvas',width:1289,height:1800});
chart.setOption({animation:false,backgroundColor:'#fff',textStyle:{fontFamily:FONT},tooltip:{show:false},grid:grids,xAxis:xAxes,yAxis:yAxes,polar:polars,angleAxis:angles,radiusAxis:radii,series,graphic:{elements:gfx}});
</script></body></html>
